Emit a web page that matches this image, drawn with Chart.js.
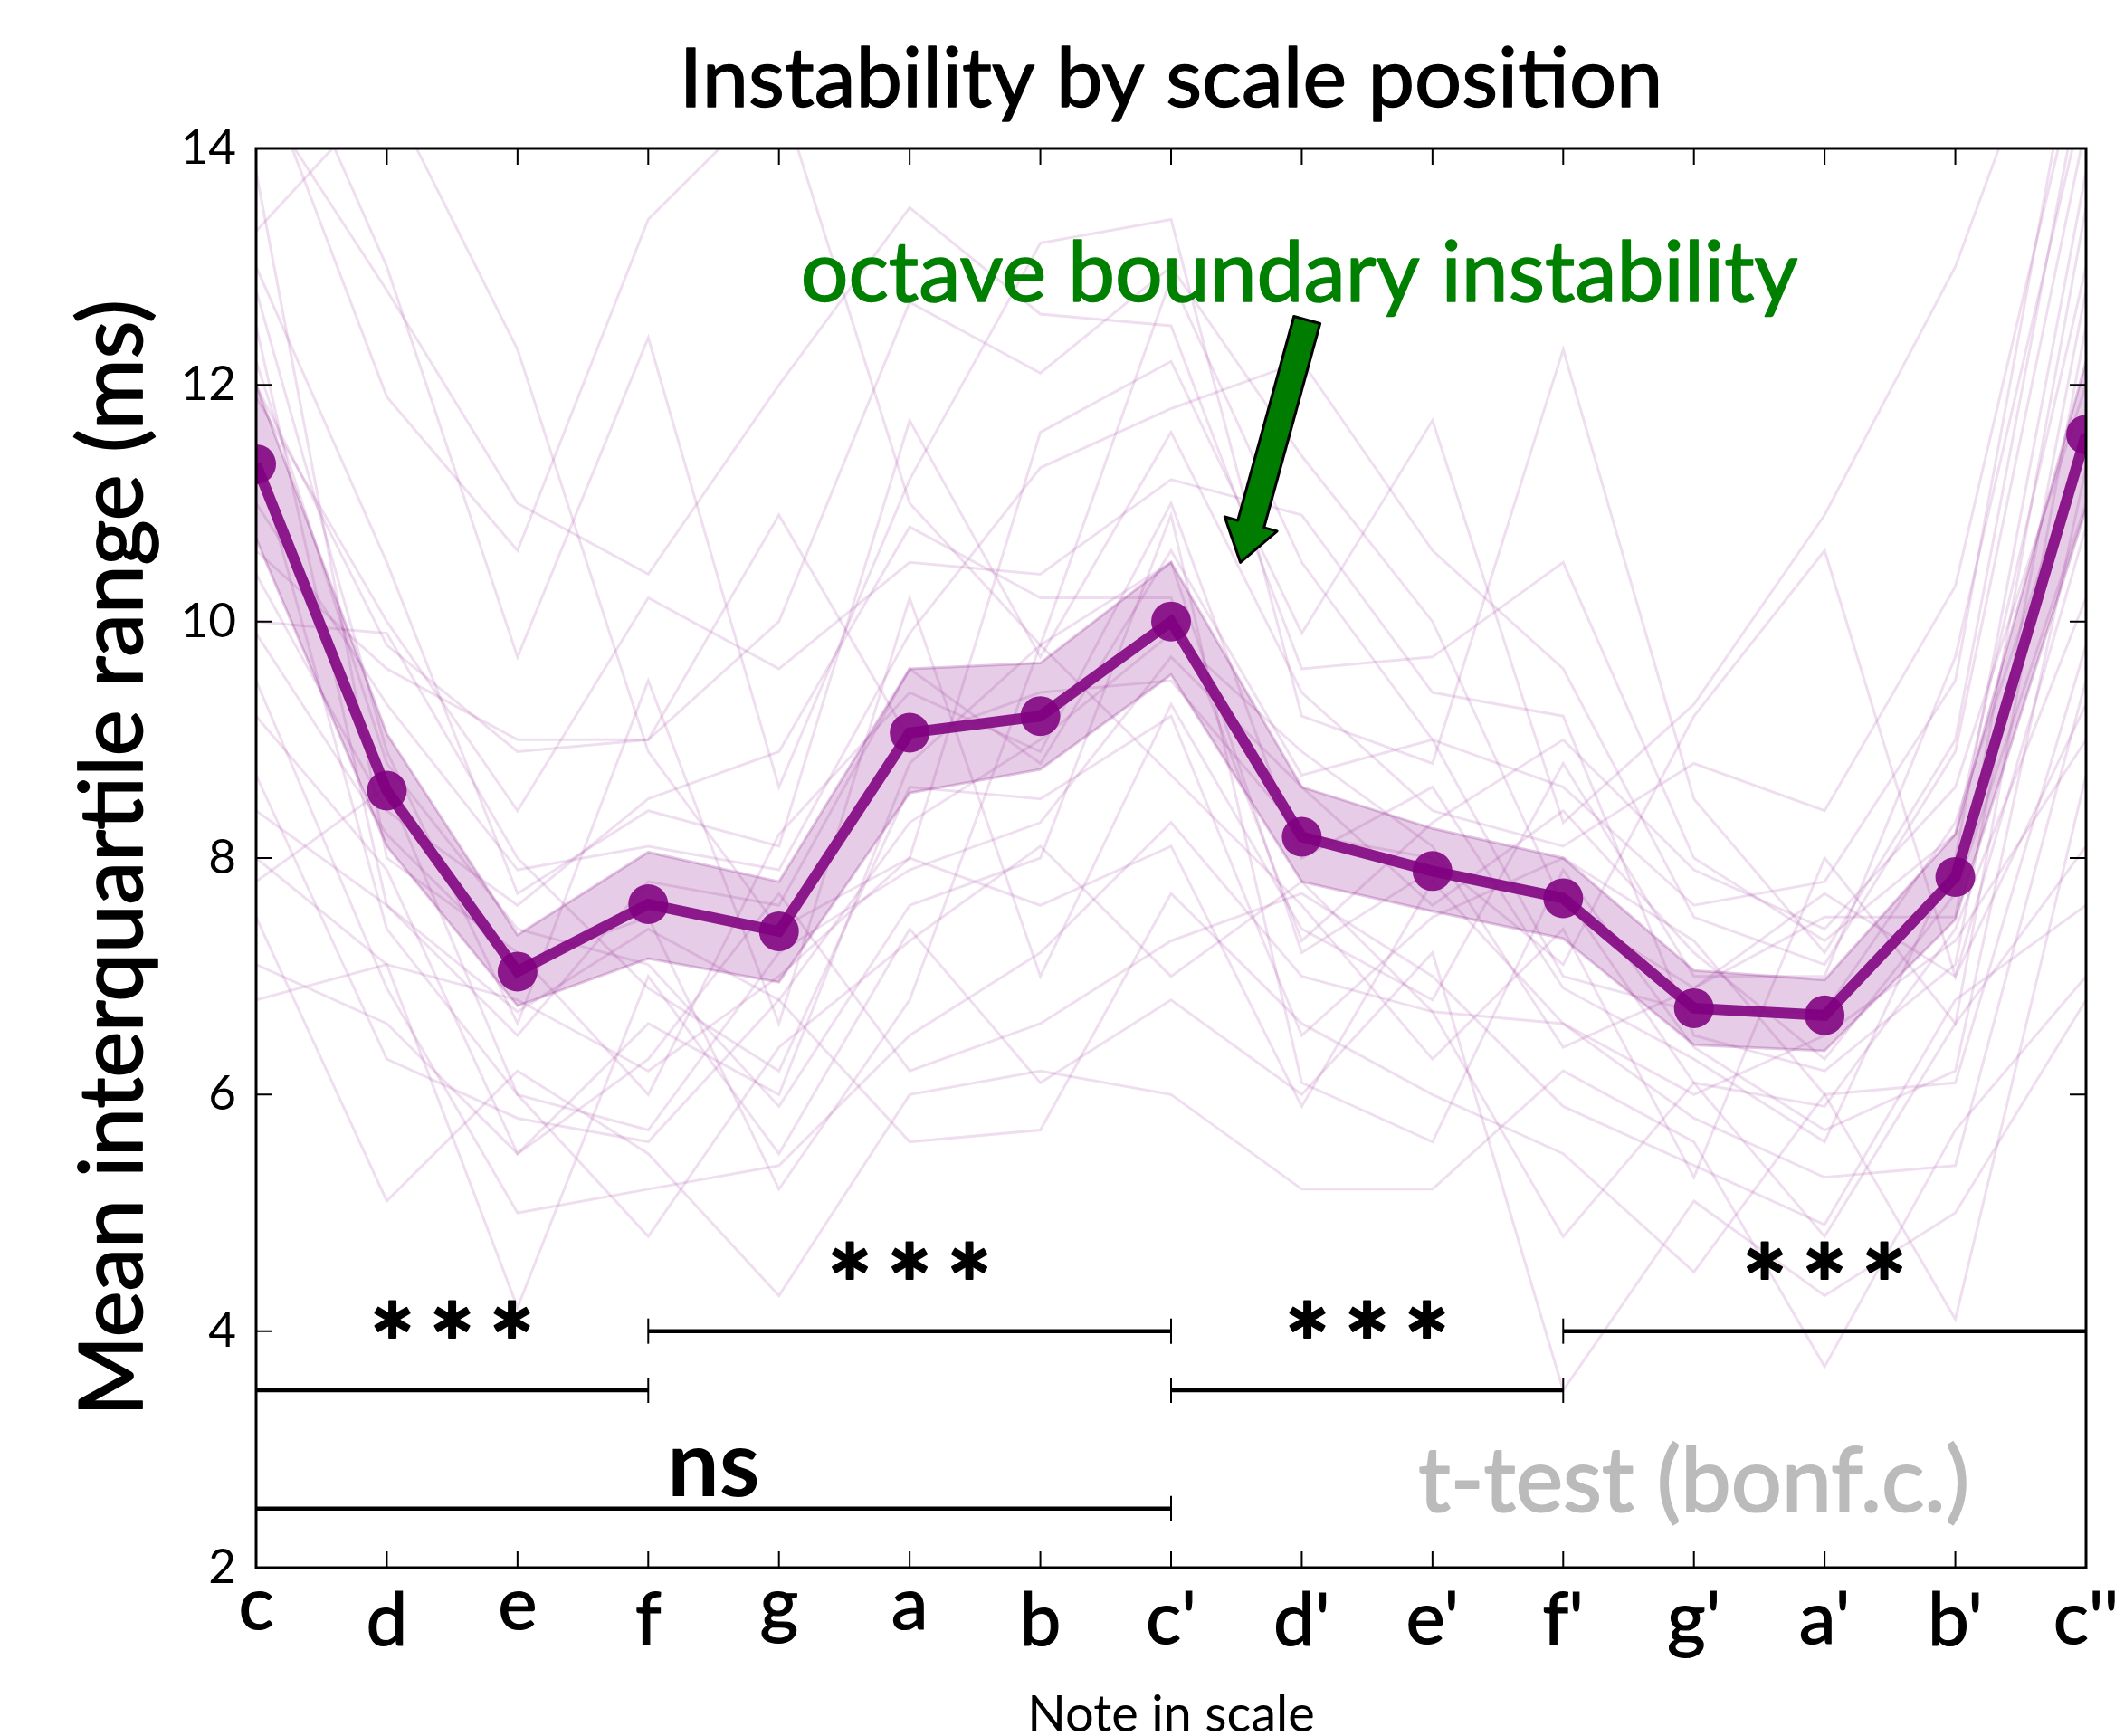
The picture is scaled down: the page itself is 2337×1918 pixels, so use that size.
<!DOCTYPE html>
<html>
<head>
<meta charset="utf-8">
<script src="https://cdn.jsdelivr.net/npm/chart.js@4.4.1/dist/chart.umd.min.js"></script>
<style>
  html, body { margin: 0; padding: 0; background: #fff; }
  canvas { display: block; }
</style>
</head>
<body>
<canvas id="chart" width="2337" height="1918"></canvas>
<script>
const notes = ['c', 'd', 'e', 'f', 'g', 'a', 'b', "c'", "d'", "e'", "f'", "g'", "a'", "b'", "c''"];

// mean interquartile range per note, and the shaded error band
const meanIqr = [11.33, 8.57, 7.04, 7.61, 7.38, 9.06, 9.20, 10.00, 8.18, 7.89, 7.66, 6.73, 6.67, 7.84, 11.58];
const bandUpper = [12.0, 9.05, 7.35, 8.05, 7.8, 9.6, 9.65, 10.5, 8.6, 8.25, 8.0, 7.05, 6.97, 8.2, 12.2];
const bandLower = [10.7, 8.1, 6.75, 7.15, 6.95, 8.55, 8.75, 9.55, 7.8, 7.55, 7.32, 6.42, 6.37, 7.48, 10.95];

// individual players (faint lines)
const p01 = [14.8, 11.9, 10.6, 13.4, 14.5, 11.0, 9.8, 12.9, 10.5, 9.0, 8.6, 7.6, 7.8, 9.5, 15.5];
const p02 = [15.5, 13.0, 9.7, 12.4, 8.6, 11.2, 13.2, 13.4, 9.2, 8.8, 12.3, 8.5, 7.2, 9.0, 14.8];
const p03 = [13.3, 14.5, 12.3, 8.9, 7.4, 8.0, 11.6, 12.2, 9.9, 11.7, 8.3, 9.3, 10.9, 13.0, 16.0];
const p04 = [12.0, 9.8, 8.9, 9.0, 10.0, 12.7, 12.1, 13.0, 11.4, 10.0, 7.6, 6.9, 7.5, 7.5, 13.5];
const p05 = [11.9, 10.0, 8.4, 10.2, 9.6, 10.5, 10.4, 11.2, 10.9, 9.4, 9.2, 6.5, 6.2, 7.1, 12.8];
const p06 = [10.6, 9.6, 9.0, 9.0, 10.9, 9.0, 9.4, 9.5, 8.2, 8.0, 7.1, 9.2, 10.6, 7.0, 10.8];
const p07 = [10.0, 9.9, 8.0, 6.9, 6.2, 8.6, 8.5, 9.2, 6.5, 7.5, 8.0, 7.3, 6.0, 6.1, 9.8];
const p08 = [9.9, 8.2, 7.1, 7.5, 5.2, 6.8, 9.8, 8.7, 7.6, 6.3, 7.4, 5.3, 8.0, 6.6, 12.5];
const p09 = [8.0, 7.1, 6.8, 6.2, 7.0, 8.0, 7.6, 8.1, 5.9, 7.8, 6.6, 6.0, 6.5, 7.3, 9.0];
const p10 = [7.8, 8.6, 6.0, 4.8, 6.4, 7.3, 8.1, 7.0, 7.8, 6.7, 4.8, 6.1, 4.8, 6.6, 8.1];
const p11 = [6.8, 7.1, 4.2, 7.0, 5.5, 7.4, 6.1, 6.8, 6.0, 7.2, 3.5, 5.1, 4.3, 5.0, 6.8];
const p12 = [7.5, 5.1, 6.2, 5.5, 4.3, 6.0, 6.2, 6.0, 5.2, 5.2, 6.2, 5.6, 3.7, 5.7, 7.0];
const p13 = [8.7, 6.3, 5.8, 5.6, 6.8, 5.6, 5.7, 7.7, 6.6, 6.0, 5.5, 4.5, 6.0, 4.1, 8.7];
const p14 = [9.5, 6.9, 5.0, 5.2, 5.4, 6.5, 7.2, 8.3, 7.0, 6.7, 6.6, 5.8, 5.3, 5.4, 9.5];
const p15 = [12.5, 7.6, 6.5, 7.8, 7.6, 9.6, 8.8, 10.6, 8.7, 9.0, 7.0, 6.7, 6.7, 8.3, 11.6];
const p16 = [10.4, 8.4, 7.6, 8.5, 8.9, 10.8, 10.2, 10.2, 7.3, 8.3, 9.0, 7.9, 7.4, 8.6, 12.0];
const p17 = [11.4, 7.4, 6.0, 5.7, 7.2, 7.9, 8.3, 9.7, 8.6, 7.6, 8.4, 7.2, 6.3, 7.7, 11.0];
const p18 = [13.8, 8.0, 7.2, 6.0, 8.2, 9.4, 8.9, 11.0, 8.0, 8.6, 6.9, 6.3, 5.6, 8.0, 13.8];
const p19 = [12.8, 8.9, 6.6, 9.5, 6.6, 10.2, 7.0, 9.3, 7.4, 6.8, 8.8, 7.0, 7.0, 9.7, 14.5];
const p20 = [9.2, 7.9, 5.5, 6.6, 6.0, 8.8, 9.8, 10.5, 7.2, 7.9, 7.7, 6.1, 5.9, 7.4, 10.2];
const p21 = [14.5, 12.8, 11.0, 10.4, 12.0, 13.5, 12.6, 12.5, 9.6, 9.7, 10.5, 8.0, 7.3, 8.2, 13.0];
const p22 = [11.0, 9.3, 7.9, 8.1, 7.9, 9.9, 11.3, 11.8, 12.2, 10.6, 9.6, 7.5, 7.1, 8.9, 14.2];
const p23 = [8.4, 7.6, 6.7, 7.4, 6.8, 8.3, 9.0, 9.9, 8.9, 8.1, 6.4, 6.9, 7.7, 7.0, 9.3];
const p24 = [12.2, 8.8, 7.4, 7.1, 5.9, 7.6, 8.0, 10.9, 6.1, 5.6, 7.9, 6.4, 5.7, 6.2, 11.3];
const p25 = [7.1, 6.6, 5.5, 6.3, 7.7, 6.2, 6.6, 7.3, 7.7, 7.0, 5.9, 5.4, 4.9, 6.8, 7.6];
const p26 = [13.0, 10.5, 7.7, 8.4, 8.1, 11.7, 9.7, 11.6, 9.4, 8.4, 8.1, 8.8, 8.4, 10.3, 15.0];
const players = [p01, p02, p03, p04, p05, p06, p07, p08, p09, p10, p11, p12, p13,
                 p14, p15, p16, p17, p18, p19, p20, p21, p22, p23, p24, p25, p26];

// significance brackets (t-test, bonferroni corrected)
const sigFrom = ['c', 'f', "c'", "f'", 'c'];
const sigTo = ['f', "c'", "f'", "c''", "c'"];
const sigLevel = [3.5, 4.0, 3.5, 4.0, 2.5];
const sigText = ['***', '***', '***', '***', 'ns'];

const yMin = 2, yMax = 14, yStep = 2;

const FONT = 'Lato, "Open Sans", sans-serif';
const PURPLE = 'rgba(128,0,128,';

const datasets = [];
datasets.push({
    data: meanIqr,
    borderColor: PURPLE + '0.88)',
    backgroundColor: PURPLE + '0.88)',
    borderWidth: 12,
    pointRadius: 22,
    pointBorderWidth: 0,
    pointBackgroundColor: PURPLE + '0.88)',
    clip: 0,
    order: 1
});
datasets.push({
    data: bandUpper,
    borderColor: PURPLE + '0.22)',
    borderWidth: 3,
    backgroundColor: PURPLE + '0.2)',
    fill: '+1',
    pointRadius: 0,
    clip: 0,
    order: 2
});
datasets.push({
    data: bandLower,
    borderColor: PURPLE + '0.22)',
    borderWidth: 3,
    fill: false,
    pointRadius: 0,
    clip: 0,
    order: 2
});
sigLevel.forEach((lvl, i) => {
    datasets.push({
        data: [{ x: sigFrom[i], y: lvl }, { x: sigTo[i], y: lvl }],
        borderColor: '#000',
        borderWidth: 4.5,
        pointStyle: 'line',
        rotation: 90,
        pointRadius: 14,
        pointBorderWidth: 2,
        pointBorderColor: '#000',
        clip: 0,
        order: 0
    });
});
players.forEach(p => {
    datasets.push({
        data: p,
        borderColor: PURPLE + '0.13)',
        borderWidth: 3,
        pointRadius: 0,
        clip: 0,
        order: 10
    });
});

function inkText(ctx, text, cx, cy, weight) {
    // center the visible ink of the text at (cx, cy); weight thickens strokes a bit
    const m = ctx.measureText(text);
    const asc = m.actualBoundingBoxAscent, desc = m.actualBoundingBoxDescent;
    ctx.textAlign = 'center';
    ctx.textBaseline = 'alphabetic';
    const by = cy + (asc - desc) / 2;
    ctx.fillText(text, cx, by);
    if (weight) {
        ctx.lineWidth = weight;
        ctx.lineJoin = 'round';
        ctx.strokeStyle = ctx.fillStyle;
        ctx.strokeText(text, cx, by);
    }
}

const decor = {
    id: 'decor',
    afterDatasetsDraw(chart) {
        const { ctx, chartArea: a, scales: { x, y } } = chart;
        ctx.save();

        // frame and inward ticks
        ctx.strokeStyle = '#000';
        ctx.lineWidth = 3;
        ctx.strokeRect(a.left, a.top, a.right - a.left, a.bottom - a.top);
        ctx.lineWidth = 2;
        ctx.beginPath();
        x.ticks.forEach((t, i) => {
            const px = x.getPixelForTick(i);
            ctx.moveTo(px, a.bottom); ctx.lineTo(px, a.bottom - 18);
            ctx.moveTo(px, a.top); ctx.lineTo(px, a.top + 18);
        });
        y.ticks.forEach((t, i) => {
            const py = y.getPixelForTick(i);
            ctx.moveTo(a.left, py); ctx.lineTo(a.left + 18, py);
            ctx.moveTo(a.right, py); ctx.lineTo(a.right - 18, py);
        });
        ctx.stroke();

        // x tick labels, ink tops aligned like the original
        ctx.fillStyle = '#000';
        ctx.font = '82px ' + FONT;
        ctx.textAlign = 'center';
        ctx.textBaseline = 'alphabetic';
        ctx.lineWidth = 1.2;
        ctx.strokeStyle = '#000';
        notes.forEach((n, i) => {
            const m = ctx.measureText(n);
            const px = x.getPixelForValue(i), py = a.bottom + 26 + m.actualBoundingBoxAscent;
            ctx.fillText(n, px, py);
            ctx.strokeText(n, px, py);
        });

        // significance labels
        sigText.forEach((s, i) => {
            const mid = (x.getPixelForValue(notes.indexOf(sigFrom[i])) + x.getPixelForValue(notes.indexOf(sigTo[i]))) / 2;
            ctx.fillStyle = '#000';
            if (s === 'ns') {
                ctx.font = 'bold 102px ' + FONT;
                inkText(ctx, s, mid, y.getPixelForValue(sigLevel[i] + 0.3));
            } else {
                ctx.font = 'bold 118px ' + FONT;
                const cy = y.getPixelForValue(sigLevel[i] + 0.6);
                [-66, 0, 66].forEach(dx => inkText(ctx, '*', mid + dx, cy, 2));
            }
        });

        ctx.fillStyle = '#bbbbbb';
        ctx.font = '99px ' + FONT;
        inkText(ctx, 't-test (bonf.c.)', x.getPixelForValue(11.0), y.getPixelForValue(2.71), 2);

        // annotation
        ctx.fillStyle = '#008000';
        ctx.font = '93px ' + FONT;
        inkText(ctx, 'octave boundary instability', x.getPixelForValue(7.98), y.getPixelForValue(12.9), 1.5);

        const tx = x.getPixelForValue(8.04), ty = y.getPixelForValue(12.55);
        const hx = x.getPixelForValue(7.53), hy = y.getPixelForValue(10.5);
        const len = Math.hypot(hx - tx, hy - ty);
        const ux = (hx - tx) / len, uy = (hy - ty) / len;
        const nx = -uy, ny = ux;
        const sw = 15, hw = 30, hl = 44;
        const bx = hx - ux * hl, by = hy - uy * hl;
        ctx.beginPath();
        ctx.moveTo(tx + nx * sw, ty + ny * sw);
        ctx.lineTo(bx + nx * sw, by + ny * sw);
        ctx.lineTo(bx + nx * hw, by + ny * hw);
        ctx.lineTo(hx, hy);
        ctx.lineTo(bx - nx * hw, by - ny * hw);
        ctx.lineTo(bx - nx * sw, by - ny * sw);
        ctx.lineTo(tx - nx * sw, ty - ny * sw);
        ctx.closePath();
        ctx.fillStyle = '#007c00';
        ctx.fill();
        ctx.lineWidth = 3;
        ctx.strokeStyle = '#000';
        ctx.stroke();

        // titles
        ctx.fillStyle = '#000';
        ctx.font = '92px ' + FONT;
        inkText(ctx, 'Instability by scale position', (a.left + a.right) / 2, 92, 1.5);

        ctx.font = '56px "Liberation Sans Narrow", ' + FONT;
        inkText(ctx, 'Note in scale', (a.left + a.right) / 2, 1892);

        ctx.save();
        ctx.translate(128, (a.top + a.bottom) / 2);
        ctx.rotate(-Math.PI / 2);
        ctx.font = '96px ' + FONT;
        inkText(ctx, 'Mean interquartile range (ms)', 0, 0, 1.8);
        ctx.restore();

        ctx.restore();
    }
};

new Chart(document.getElementById('chart'), {
    type: 'line',
    data: { labels: notes, datasets: datasets },
    options: {
        responsive: false,
        animation: false,
        events: [],
        layout: { padding: { top: 164, right: 32, bottom: 0, left: 0 } },
        plugins: { legend: { display: false }, tooltip: { enabled: false }, title: { display: false } },
        elements: { line: { tension: 0 } },
        scales: {
            x: {
                type: 'category',
                offset: false,
                grid: { display: false, drawTicks: false },
                border: { display: false },
                ticks: { display: false },
                afterFit: s => { s.height = 186; }
            },
            y: {
                min: yMin,
                max: yMax,
                grid: { display: false, drawTicks: false },
                border: { display: false },
                ticks: {
                    stepSize: yStep,
                    color: '#000',
                    padding: 22,
                    font: { family: FONT, size: 53 }
                },
                afterFit: s => { s.width = 283; }
            }
        }
    },
    plugins: [decor]
});
</script>
</body>
</html>
